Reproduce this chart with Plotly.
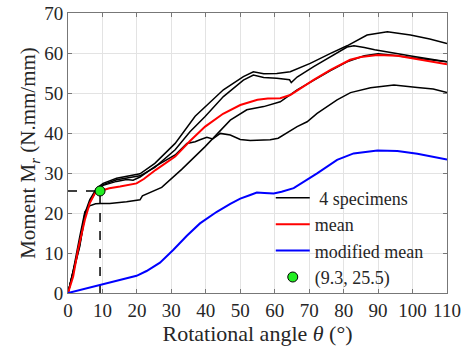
import plotly.graph_objects as go

# ---- data ----
A_x = [0, 1.5, 3.4, 4.9, 6.3, 8.3, 10.2, 14.1, 20.9, 25.2, 31.1, 36.9, 39.8, 45.1, 50.9, 53.8, 56.8, 60.6, 64.5, 70.3, 76.2, 81, 86.8, 92.7, 99.4, 105, 110]
A_y = [0, 5.75, 12.4, 19.9, 23.3, 26.2, 27.4, 28.7, 29.8, 32.4, 37.4, 44.2, 46.6, 50.8, 54.1, 55.3, 54.8, 54.9, 55.3, 57.4, 59.9, 61.8, 64.5, 65.3, 64.5, 63.5, 62.4]

B_x = [0, 1.5, 3.4, 4.9, 6.3, 8.3, 10.2, 14.1, 20.9, 25.2, 31.1, 35.4, 39.8, 45.1, 50.9, 53.8, 56.8, 60.6, 64.3, 64.8, 66.5, 71.3, 76.2, 81, 83, 86, 89, 94.6, 100, 105, 110]
B_y = [0, 5.4, 12.0, 19.3, 22.8, 25.7, 27.1, 28.3, 29.3, 31.4, 35.8, 40.3, 44.1, 49.1, 53.2, 54.5, 53.9, 53.7, 53.3, 52.6, 54.0, 56.6, 59.1, 61.5, 61.8, 61.4, 60.8, 59.9, 59.2, 58.5, 57.8]

C_x = [0, 1.5, 3.4, 4.9, 6.3, 8.0, 9.5, 12.1, 17, 20.9, 21.6, 23, 27.2, 33, 39.8, 47.1, 51.9, 56.8, 61.6, 66.5, 71.3, 76.2, 81, 86, 90, 95, 100, 105, 110]
C_y = [0, 5.5, 14.0, 20.3, 21.8, 22.3, 22.4, 22.4, 22.8, 23.3, 24.3, 24.8, 26.4, 30.9, 36.6, 43.2, 45.8, 46.6, 47.8, 50.8, 53.2, 55.6, 57.8, 59.3, 59.8, 59.4, 58.8, 58.3, 57.8]

D_x = [0, 1.5, 3.4, 4.9, 6.3, 8.3, 10.2, 14.1, 17, 18.9, 20.9, 25.2, 31.1, 34.5, 36.9, 38.3, 40.3, 42, 44.2, 47.1, 50, 52.9, 58.7, 61, 62.6, 66.5, 69.4, 72.3, 78.1, 82, 87.8, 94.6, 101.4, 106, 110]
D_y = [0, 5.0, 11.6, 19.2, 22.8, 25.6, 26.9, 27.9, 28.4, 28.2, 29.0, 31.6, 34.5, 37.4, 37.8, 38.3, 38.9, 38.5, 39.9, 39.5, 38.4, 38.1, 38.3, 38.7, 39.5, 41.6, 42.8, 44.9, 48.3, 50.1, 51.3, 52.0, 51.4, 51.0, 50.1]

mean_x = [0, 1.5, 2.9, 4.9, 6.3, 7.8, 9.3, 12, 15.1, 19.9, 22, 25.5, 31.1, 35.4, 39.8, 45, 50, 55, 58, 61.6, 64.5, 71.3, 76.2, 81.9, 85, 89.8, 95.6, 100, 105, 110]
mean_y = [0, 4.1, 10.8, 18.3, 22.4, 24.9, 25.5, 26.2, 26.6, 27.4, 28.5, 30.8, 34.1, 38.0, 41.6, 44.8, 47.0, 48.3, 48.6, 48.7, 49.5, 53.3, 55.8, 58.3, 59.0, 59.5, 59.3, 58.7, 58.0, 57.2]

mod_x = [0, 9.2, 16, 19.9, 22.8, 26.7, 30.6, 34.5, 38.3, 43.2, 47.1, 50, 52.9, 54.8, 57, 59.7, 62, 65.5, 72.3, 78.1, 82.9, 89.8, 95.6, 101.4, 110]
mod_y = [0, 2.0, 3.3, 4.3, 5.5, 7.6, 10.8, 14.3, 17.4, 20.3, 22.3, 23.6, 24.5, 25.1, 25.0, 24.9, 25.3, 26.2, 29.9, 33.3, 34.9, 35.6, 35.5, 34.8, 33.4]

pt_x = 9.3
pt_y = 25.5

x_ticks = list(range(0, 111, 10))
y_ticks = list(range(0, 71, 10))

FONT = "Liberation Serif, Times New Roman, serif"
TXT = "#262626"

fig = go.Figure()

# dashed guide lines to the point
fig.add_trace(go.Scatter(x=[0, pt_x, pt_x], y=[pt_y, pt_y, 0], mode="lines",
                         line=dict(color="black", width=1.5, dash="dash"),
                         showlegend=False, hoverinfo="skip"))

specimens = [(A_x, A_y), (B_x, B_y), (C_x, C_y), (D_x, D_y)]
for i, (sx, sy) in enumerate(specimens):
    fig.add_trace(go.Scatter(x=sx, y=sy, mode="lines",
                             line=dict(color="black", width=1.5),
                             name="\u00a04 specimens", legendgroup="spec",
                             showlegend=(i == 0)))

fig.add_trace(go.Scatter(x=mean_x, y=mean_y, mode="lines",
                         line=dict(color="#ff0000", width=2), name="mean"))
fig.add_trace(go.Scatter(x=mod_x, y=mod_y, mode="lines",
                         line=dict(color="#0000ff", width=2), name="modified mean"))
fig.add_trace(go.Scatter(x=[pt_x], y=[pt_y], mode="markers",
                         marker=dict(color="#22ee22", size=10,
                                     line=dict(color="black", width=1)),
                         name="(9.3, 25.5)"))

axis_common = dict(showgrid=True, gridcolor="#e3e3e3", gridwidth=1, automargin=False,
                   zeroline=False, showline=True, linecolor="#777777", linewidth=1,
                   mirror="ticks", ticks="inside", ticklen=4, tickcolor="#777777",
                   ticklabeloverflow="allow",
                   tickfont=dict(family=FONT, size=19, color=TXT))

fig.update_layout(
    width=469, height=352,
    margin=dict(l=68, r=22, t=13, b=59),
    paper_bgcolor="white", plot_bgcolor="white",
    font=dict(family=FONT, color=TXT),
    xaxis=dict(range=[0, 110], tickvals=x_ticks, ticktext=[str(v) for v in x_ticks],
               title=dict(text="Rotational angle <i>θ</i> (°)",
                          font=dict(family=FONT, size=22, color=TXT), standoff=2),
               **axis_common),
    yaxis=dict(range=[0, 70], tickvals=y_ticks, ticktext=[str(v) for v in y_ticks],
               title=dict(text="Moment M<sub><i>r</i></sub> (N.mm/mm)",
                          font=dict(family=FONT, size=21, color=TXT), standoff=2),
               **axis_common),
    legend=dict(x=0.535, y=0.405, xanchor="left", yanchor="top",
                bgcolor="rgba(255,255,255,0)", borderwidth=0,
                font=dict(family=FONT, size=18, color=TXT),
                tracegroupgap=0, itemwidth=34),
)

# remove the browser's default 8px body margin so the figure sits at the page origin
fig.write_html("out.html", config={"displayModeBar": False},
               post_script="document.body.style.margin='0';")
